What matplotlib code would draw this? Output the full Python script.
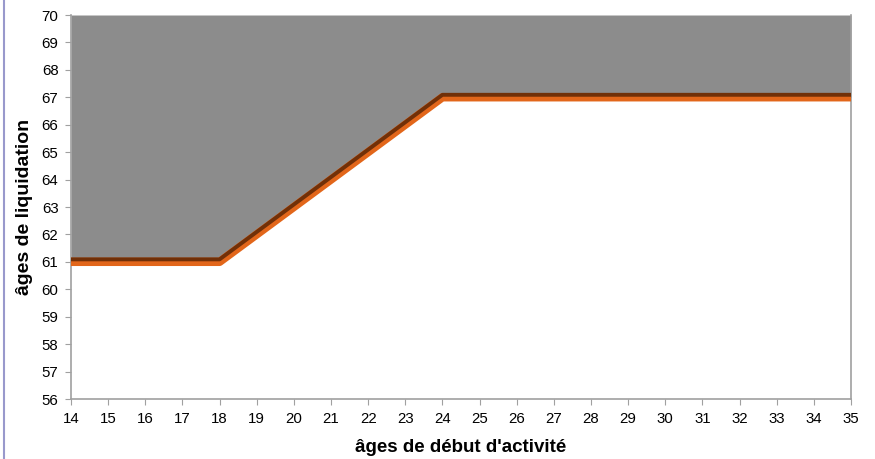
import matplotlib.pyplot as plt
import matplotlib.transforms as mtransforms
from matplotlib.lines import Line2D

plt.rcParams['font.family'] = ['Liberation Sans', 'DejaVu Sans']

# âge de début d'activité -> âge de liquidation
debut = [14, 15, 16, 17, 18, 19, 20, 21, 22, 23, 24, 25, 26, 27, 28,
         29, 30, 31, 32, 33, 34, 35]
liquidation = [61, 61, 61, 61, 61, 62, 63, 64, 65, 66, 67, 67, 67, 67, 67,
               67, 67, 67, 67, 67, 67, 67]

fig = plt.figure(figsize=(8.75, 4.59), dpi=100)
ax = fig.add_axes([0.0811, 0.1307, 0.8915, 0.8366])

ax.fill_between(debut, liquidation, 70, color='#8c8c8c', lw=0)

# trait orange avec liseré brun au-dessus
ax.plot(debut, liquidation, color='#e2661a', lw=6, solid_capstyle='butt', zorder=3)
decal = mtransforms.offset_copy(ax.transData, fig=fig, x=0, y=1.8, units='points')
ax.plot(debut, liquidation, color='#713008', lw=2.8, solid_capstyle='butt',
        transform=decal, zorder=4)

ax.set_xlim(14, 35)
ax.set_ylim(56, 70)
ax.set_xticks(debut)
ax.set_yticks(range(56, 71))
ax.tick_params(direction='out', length=4, color='#a0a0a0', labelsize=10.8)
ax.tick_params(axis='x', pad=5)
ax.tick_params(axis='y', pad=5)

for s in ['left', 'bottom', 'right']:
    ax.spines[s].set_color('#a0a0a0')
    ax.spines[s].set_linewidth(1.2)
ax.spines['top'].set_visible(False)

ax.set_xlabel("âges de début d'activité", fontsize=13.5, fontweight='bold', labelpad=10)
ax.set_ylabel('âges de liquidation', fontsize=14, fontweight='bold', labelpad=6)

fig.add_artist(Line2D([0.004, 0.004], [0, 1], transform=fig.transFigure,
                      color='#9999cc', lw=1.5))

fig.savefig('out.png', dpi=100)
